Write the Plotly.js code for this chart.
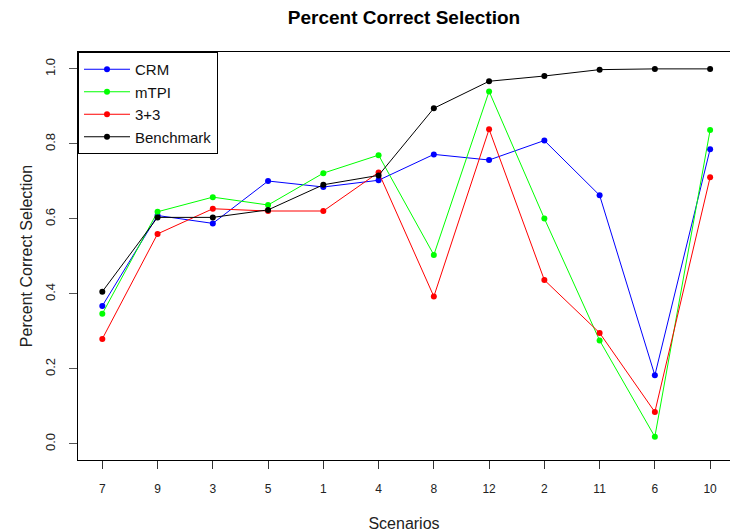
<!DOCTYPE html>
<html>
<head>
<meta charset="utf-8">
<script src="https://cdn.plot.ly/plotly-3.0.1.min.js"></script>
<style>html,body{margin:0;padding:0;background:#fff;}#chart{width:730px;height:532px;}</style>
</head>
<body>
<div id="chart"></div>
<script>
const scenarios = ['7','9','3','5','1','4','8','12','2','11','6','10'];
const crm       = [0.368,0.609,0.588,0.701,0.685,0.703,0.772,0.757,0.809,0.663,0.183,0.786];
const mtpi      = [0.347,0.619,0.658,0.637,0.722,0.770,0.504,0.940,0.601,0.276,0.019,0.837];
const threePlus = [0.280,0.560,0.627,0.621,0.621,0.724,0.393,0.839,0.437,0.296,0.085,0.711];
const benchmark = [0.406,0.604,0.604,0.624,0.691,0.716,0.895,0.967,0.981,0.998,1.000,1.000];
const yTicks = [0.0,0.2,0.4,0.6,0.8,1.0];
const yTickText = ['0.0','0.2','0.4','0.6','0.8','1.0'];

const series = [
  {name:'CRM', y:crm, color:'#0000ff'},
  {name:'mTPI', y:mtpi, color:'#00ff00'},
  {name:'3+3', y:threePlus, color:'#ff0000'},
  {name:'Benchmark', y:benchmark, color:'#000000'}
];
const traces = series.map(s => ({
  type:'scatter', mode:'lines+markers', name:s.name,
  x:scenarios, y:s.y,
  line:{color:s.color, width:1},
  marker:{color:s.color, size:6}
}));

const font = "'Liberation Sans', Arial, sans-serif";
const layout = {
  width:730, height:532,
  margin:{l:78, r:0, t:52, b:72},
  paper_bgcolor:'#fff', plot_bgcolor:'#fff',
  font:{family:font, color:'#222', size:13},
  title:{text:'<b>Percent Correct Selection</b>', font:{family:font, size:19, color:'#000'},
         x:0.5, xref:'paper', y:1-17/532, yanchor:'middle'},
  xaxis:{type:'category', range:[-0.44, 11.36], showgrid:false, zeroline:false,
         showline:true, mirror:true, linecolor:'#000', linewidth:1,
         ticks:'outside', ticklen:8, tickcolor:'#333', tickfont:{size:12, color:'#222'},
         ticklabelstandoff:10,
         title:{text:'Scenarios', font:{size:16, color:'#222'}, standoff:22}},
  yaxis:{range:[-0.043, 1.045], showgrid:false, zeroline:false,
         showline:true, linecolor:'#000', linewidth:1,
         tickvals:yTicks, ticktext:yTickText, tickangle:-90,
         ticks:'outside', ticklen:8, tickcolor:'#555', tickfont:{size:13, color:'#222'},
         ticklabelstandoff:9,
         title:{text:'Percent Correct Selection', font:{size:16, color:'#222'}, standoff:6}},
  legend:{x:0, y:1, xanchor:'left', yanchor:'top', bgcolor:'#fff',
          bordercolor:'#000', borderwidth:1, font:{size:15, color:'#111'},
          tracegroupgap:0, itemwidth:46, entrywidth:130, entrywidthmode:'pixels'},
  showlegend:true
};
Plotly.newPlot('chart', traces, layout, {displayModeBar:false, staticPlot:true});
</script>
</body>
</html>
